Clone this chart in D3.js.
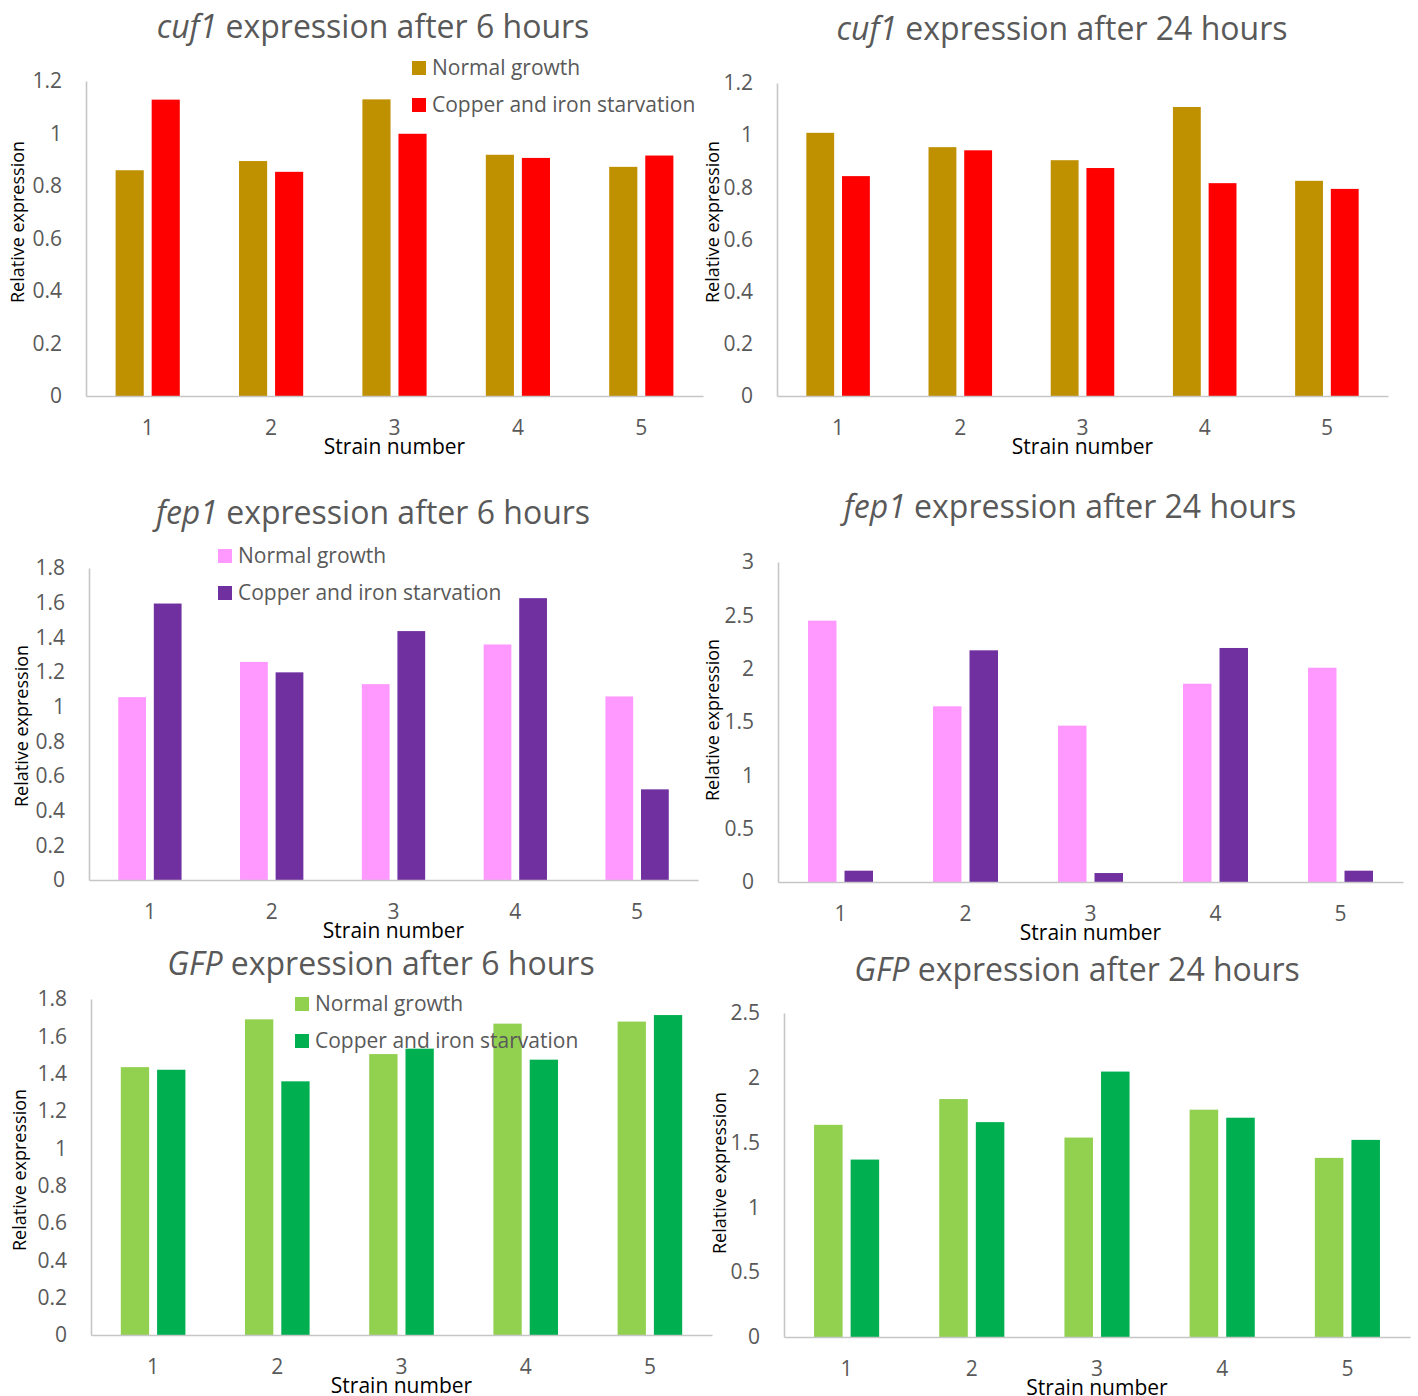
<!DOCTYPE html>
<html>
<head>
<meta charset="utf-8">
<script src="https://cdn.jsdelivr.net/npm/d3@7"></script>
<style>
  html, body { margin: 0; padding: 0; background: #fff; }
  svg { display: block; }
  .title { font-family: "Open Sans", sans-serif; fill: #595959; }
  .tick text { font-family: "Open Sans", sans-serif; fill: #595959; }
  .legend text { font-family: "Open Sans", sans-serif; fill: #595959; }
  .xtitle { font-family: "Open Sans", sans-serif; fill: #000; }
  .ytitle { font-family: "Open Sans", sans-serif; fill: #000; }
</style>
</head>
<body>
<svg id="fig" width="1418" height="1396"></svg>
<script>
// Strains and treatment groups
const strains = ["1", "2", "3", "4", "5"];
const seriesNames = ["Normal growth", "Copper and iron starvation"];

// Relative expression values per strain
const cuf1_6h_normal   = [0.860, 0.895, 1.130, 0.919, 0.873];
const cuf1_6h_starved  = [1.129, 0.854, 0.999, 0.907, 0.916];
const cuf1_24h_normal  = [1.009, 0.954, 0.904, 1.108, 0.825];
const cuf1_24h_starved = [0.843, 0.942, 0.874, 0.816, 0.794];
const fep1_6h_normal   = [1.055, 1.258, 1.130, 1.359, 1.059];
const fep1_6h_starved  = [1.595, 1.198, 1.436, 1.626, 0.523];
const fep1_24h_normal  = [2.450, 1.647, 1.466, 1.859, 2.009];
const fep1_24h_starved = [0.106, 2.172, 0.084, 2.194, 0.106];
const gfp_6h_normal    = [1.435, 1.691, 1.505, 1.668, 1.679];
const gfp_6h_starved   = [1.421, 1.359, 1.534, 1.475, 1.714];
const gfp_24h_normal   = [1.637, 1.836, 1.539, 1.754, 1.382];
const gfp_24h_starved  = [1.369, 1.658, 2.048, 1.692, 1.521];

// Y-axis tick values
const ticks12 = [0, 0.2, 0.4, 0.6, 0.8, 1, 1.2];
const ticks18 = [0, 0.2, 0.4, 0.6, 0.8, 1, 1.2, 1.4, 1.6, 1.8];
const ticks30 = [0, 0.5, 1, 1.5, 2, 2.5, 3];
const ticks25 = [0, 0.5, 1, 1.5, 2, 2.5];

// Titles: italic gene name followed by plain text
const titleGenes = ["cuf1", "cuf1", "fep1", "fep1", "GFP", "GFP"];
const titleRest = [" expression after 6 hours", " expression after 24 hours",
                   " expression after 6 hours", " expression after 24 hours",
                   " expression after 6 hours", " expression after 24 hours"];

const cuf1Colors = ["#BF9000", "#FF0000"];
const fep1Colors = ["#FF99FF", "#7030A0"];
const gfpColors  = ["#92D050", "#00B050"];

const panels = [
  { gene: titleGenes[0], rest: titleRest[0], series: [cuf1_6h_normal, cuf1_6h_starved], colors: cuf1Colors,
    ticks: ticks12, left: 86, right: 703, top: 81, bottom: 396, tx: 373, ty: 38,
    ytx: 17, yty: 222, legend: { x: 412, y: 61 } },
  { gene: titleGenes[1], rest: titleRest[1], series: [cuf1_24h_normal, cuf1_24h_starved], colors: cuf1Colors,
    ticks: ticks12, left: 777, right: 1388, top: 83, bottom: 396, tx: 1062, ty: 40,
    ytx: 712, yty: 222, legend: null },
  { gene: titleGenes[2], rest: titleRest[2], series: [fep1_6h_normal, fep1_6h_starved], colors: fep1Colors,
    ticks: ticks18, left: 89, right: 698, top: 568, bottom: 880, tx: 373, ty: 524,
    ytx: 21, yty: 726, legend: { x: 218, y: 549 } },
  { gene: titleGenes[3], rest: titleRest[3], series: [fep1_24h_normal, fep1_24h_starved], colors: fep1Colors,
    ticks: ticks30, left: 778, right: 1403, top: 562, bottom: 882, tx: 1070, ty: 518,
    ytx: 712, yty: 720, legend: null },
  { gene: titleGenes[4], rest: titleRest[4], series: [gfp_6h_normal, gfp_6h_starved], colors: gfpColors,
    ticks: ticks18, left: 91, right: 712, top: 999, bottom: 1335, tx: 381, ty: 975,
    ytx: 19, yty: 1170, legend: { x: 295, y: 997 } },
  { gene: titleGenes[5], rest: titleRest[5], series: [gfp_24h_normal, gfp_24h_starved], colors: gfpColors,
    ticks: ticks25, left: 784, right: 1410, top: 1013, bottom: 1337, tx: 1077, ty: 981,
    ytx: 719, yty: 1173, legend: null }
];

const svg = d3.select("#fig");
const axisColor = "#C6C6C6";

panels.forEach(p => {
  const g = svg.append("g");

  const x = d3.scaleBand().domain(strains).range([p.left, p.right]).padding(0);
  const half = x.step() * 0.26;
  const xs = d3.scaleBand().domain(seriesNames).range([-half, half]).paddingInner(0.22);
  const y = d3.scaleLinear().domain([0, d3.max(p.ticks)]).range([p.bottom, p.top]);

  // Title
  const t = g.append("text").attr("class", "title")
    .attr("x", p.tx).attr("y", p.ty)
    .attr("text-anchor", "middle").style("font-size", "32px");
  t.append("tspan").style("font-style", "italic").text(p.gene);
  t.append("tspan").text(p.rest);

  // Y axis
  const yAxis = g.append("g").attr("transform", `translate(${p.left},0)`)
    .call(d3.axisLeft(y).tickValues(p.ticks).tickSize(0).tickPadding(24).tickFormat(d3.format("~g")));
  yAxis.select(".domain").attr("stroke", axisColor).attr("stroke-width", 1.6);
  yAxis.selectAll(".tick text").style("font-size", "21px");

  // Bars
  p.series.forEach((vals, si) => {
    g.append("g").selectAll("rect").data(vals).join("rect")
      .attr("x", (d, i) => x(strains[i]) + x.bandwidth() / 2 + xs(seriesNames[si]))
      .attr("y", d => y(d))
      .attr("width", xs.bandwidth())
      .attr("height", d => y(0) - y(d))
      .attr("fill", p.colors[si]);
  });

  // X axis (drawn over bar bottoms)
  const xAxis = g.append("g").attr("transform", `translate(0,${p.bottom})`)
    .call(d3.axisBottom(x).tickSize(0).tickPadding(24).tickSizeOuter(0));
  xAxis.select(".domain").attr("stroke", axisColor).attr("stroke-width", 1.6);
  xAxis.selectAll(".tick text").style("font-size", "21px");

  // Axis titles
  g.append("text").attr("class", "xtitle")
    .attr("x", (p.left + p.right) / 2).attr("y", p.bottom + 58)
    .attr("text-anchor", "middle").style("font-size", "21px")
    .text("Strain number");

  g.append("text").attr("class", "ytitle")
    .attr("transform", `translate(${p.ytx},${p.yty}) rotate(-90)`)
    .attr("text-anchor", "middle").attr("dominant-baseline", "central")
    .style("font-size", "18px")
    .text("Relative expression");

  // Legend
  if (p.legend) {
    const lg = g.append("g").attr("class", "legend");
    seriesNames.forEach((name, i) => {
      const ly = p.legend.y + i * 37;
      lg.append("rect").attr("x", p.legend.x).attr("y", ly)
        .attr("width", 14).attr("height", 14).attr("fill", p.colors[i]);
      lg.append("text").attr("x", p.legend.x + 20).attr("y", ly + 14)
        .style("font-size", "21px").text(name);
    });
  }
});
</script>
</body>
</html>
